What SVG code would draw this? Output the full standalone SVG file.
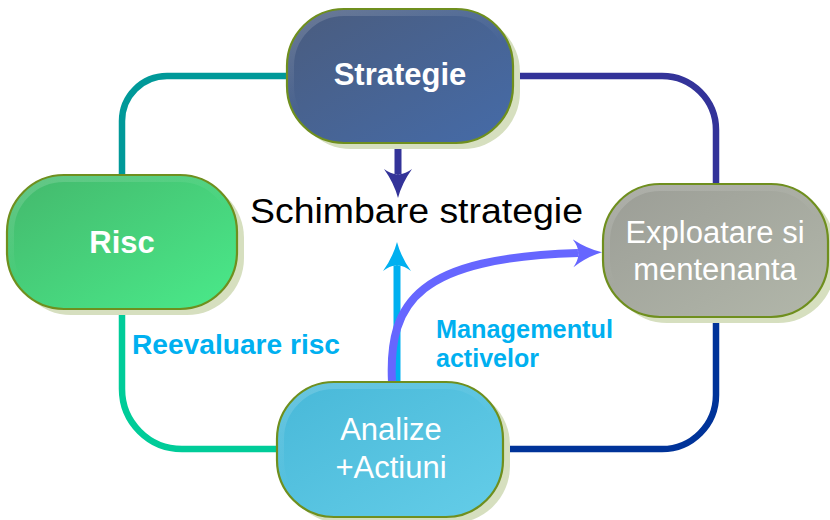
<svg xmlns="http://www.w3.org/2000/svg" width="830" height="520" viewBox="0 0 830 520">
  <style>
    .shadow { fill: #d6dfbf; }
    .node { stroke: #6f8f1e; stroke-width: 2.2; }
    .bevel { fill: none; stroke: url(#bevel); stroke-width: 6; }
    .ntxt { font-family: "Liberation Sans", Arial, sans-serif; font-size: 31px; fill: #ffffff; text-anchor: middle; }
    .bold { font-weight: bold; }
    .lbl { font-family: "Liberation Sans", Arial, sans-serif; font-weight: bold; fill: #00b0f0; }
    .conn { fill: none; stroke-linecap: round; stroke-width: 6.5; }
  </style>
  <defs>
    <linearGradient id="gStrat" x1="0" y1="0" x2="1" y2="1">
      <stop offset="0" stop-color="#4a5c7e"/>
      <stop offset="1" stop-color="#456ba8"/>
    </linearGradient>
    <linearGradient id="gRisc" x1="0" y1="0" x2="1" y2="1">
      <stop offset="0" stop-color="#44b86c"/>
      <stop offset="1" stop-color="#4aea8a"/>
    </linearGradient>
    <linearGradient id="gExpl" x1="0" y1="0" x2="1" y2="1">
      <stop offset="0" stop-color="#9b9d96"/>
      <stop offset="1" stop-color="#b2b7aa"/>
    </linearGradient>
    <linearGradient id="gAnal" x1="0" y1="0" x2="1" y2="1">
      <stop offset="0" stop-color="#48b8d8"/>
      <stop offset="1" stop-color="#64cde8"/>
    </linearGradient>
    <linearGradient id="bevel" x1="0" y1="0" x2="0.35" y2="0.6">
      <stop offset="0" stop-color="#ffffff" stop-opacity="0.18"/>
      <stop offset="1" stop-color="#ffffff" stop-opacity="0"/>
    </linearGradient>
    <marker id="hBlue" viewBox="0 0 30 30" markerUnits="userSpaceOnUse" markerWidth="30" markerHeight="30" refX="5" refY="15" orient="auto">
      <path d="M29 15 Q14 11 0 1 Q6 9 5 15 Q6 21 0 29 Q14 19 29 15 Z" fill="#333399"/>
    </marker>
    <marker id="hCyan" viewBox="0 0 30 30" markerUnits="userSpaceOnUse" markerWidth="30" markerHeight="30" refX="5" refY="15" orient="auto">
      <path d="M29 15 Q14 11 0 1 Q6 9 5 15 Q6 21 0 29 Q14 19 29 15 Z" fill="#00b0f0"/>
    </marker>
    <marker id="hPurp" viewBox="0 0 30 30" markerUnits="userSpaceOnUse" markerWidth="30" markerHeight="30" refX="5" refY="15" orient="auto">
      <path d="M29 15 Q14 11 0 1 Q6 9 5 15 Q6 21 0 29 Q14 19 29 15 Z" fill="#6666ff"/>
    </marker>
  </defs>

  <g id="connectors">
    <path class="conn" stroke="#009999" d="M287 76 H167 A45 45 0 0 0 122 121 V175"/>
    <path class="conn" stroke="#00cc99" d="M122 309 V389 A60 60 0 0 0 182 449 H280"/>
    <path class="conn" stroke="#333399" d="M513 76 H662 A54 54 0 0 1 716 130 V184"/>
    <path class="conn" stroke="#003399" d="M716 317 V395 A54 54 0 0 1 662 449 H503"/>
    <path fill="none" stroke="#333399" stroke-width="7" d="M398 142 V174" marker-end="url(#hBlue)"/>
    <path fill="none" stroke="#00b0f0" stroke-width="7" d="M397 382 V266" marker-end="url(#hCyan)"/>
    <path fill="none" stroke="#6666ff" stroke-width="8" d="M392 382 C388 300 420 258 578 253" marker-end="url(#hPurp)"/>
  </g>

  <g id="strategie">
    <rect class="shadow" x="294" y="15" width="226" height="134" rx="57"/>
    <rect class="node" x="287" y="9" width="226" height="134" rx="57" fill="url(#gStrat)"/>
    <rect class="bevel" x="291" y="13" width="218" height="126" rx="53"/>
    <text class="ntxt bold" x="400" y="85">Strategie</text>
  </g>

  <g id="risc">
    <rect class="shadow" x="14" y="181" width="230" height="134" rx="57"/>
    <rect class="node" x="7" y="175" width="230" height="134" rx="57" fill="url(#gRisc)"/>
    <rect class="bevel" x="11" y="179" width="222" height="126" rx="53"/>
    <text class="ntxt bold" x="122" y="253">Risc</text>
  </g>

  <g id="exploatare">
    <rect class="shadow" x="610" y="190" width="225" height="133" rx="57"/>
    <rect class="node" x="603" y="184" width="225" height="133" rx="57" fill="url(#gExpl)"/>
    <rect class="bevel" x="607" y="188" width="217" height="125" rx="53"/>
    <text class="ntxt" x="715" y="243" fill="#f4f4f4">Exploatare si</text>
    <text class="ntxt" x="715" y="280" fill="#f4f4f4">mentenanta</text>
  </g>

  <g id="analize">
    <rect class="shadow" x="284" y="388" width="226" height="135" rx="57"/>
    <rect class="node" x="277" y="382" width="226" height="135" rx="57" fill="url(#gAnal)"/>
    <rect class="bevel" x="281" y="386" width="218" height="127" rx="53"/>
    <text class="ntxt" x="391" y="440">Analize</text>
    <text class="ntxt" x="391" y="478">+Actiuni</text>
  </g>

  <g id="labels">
    <text x="250" y="223" font-family="Liberation Sans, Arial, sans-serif" font-size="35" fill="#000000" textLength="333" lengthAdjust="spacingAndGlyphs">Schimbare strategie</text>
    <text class="lbl" x="132" y="354" font-size="27" textLength="208" lengthAdjust="spacingAndGlyphs">Reevaluare risc</text>
    <text class="lbl" x="436" y="338" font-size="26" textLength="177" lengthAdjust="spacingAndGlyphs">Managementul</text>
    <text class="lbl" x="436" y="367" font-size="26" textLength="103" lengthAdjust="spacingAndGlyphs">activelor</text>
  </g>
</svg>
